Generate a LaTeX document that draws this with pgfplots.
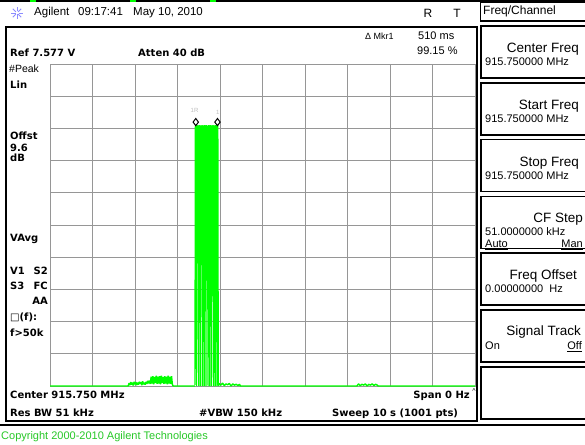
\documentclass[border=0pt]{standalone}
\usepackage{pgfplots}
\pgfplotsset{compat=1.18}
\usepackage{fontspec}
\setmainfont{Liberation Sans}
\newfontfamily\dvs{DejaVu Sans}
\newcommand\fs[1]{\fontsize{#1}{#1}\selectfont}
\newcommand\bt{\dvs\bfseries\fs{10}}
\definecolor{tg}{RGB}{0,255,0}
\definecolor{cg}{RGB}{40,200,40}
\definecolor{gridc}{RGB}{150,150,150}
\begin{document}
\begin{tikzpicture}
\useasboundingbox (0pt,0pt) rectangle (585pt,444pt);
\fill[white] (0pt,0pt) rectangle (585pt,444pt);
\begin{axis}[at={(50pt,58pt)}, anchor=south west, scale only axis,
  width=425pt, height=322pt,
  xmin=0, xmax=10, ymin=0, ymax=7.577,
  xtick={0,1,2,3,4,5,6,7,8,9,10},
  ytick={0,0.7577,1.5154,2.2731,3.0308,3.7885,4.5462,5.3039,6.0616,6.8193,7.577},
  xticklabels={}, yticklabels={}, major tick length=0pt,
  grid=major, grid style={draw=gridc, line width=0.7pt},
  axis line style={draw=gridc, line width=0.8pt},
  clip=false]
% baseline before the burst, with low-level noise
\addplot[tg, line width=1.4pt, line join=bevel] coordinates {
(0,0) (1.00,0) (1.84,0)
(1.86,0.07) (1.88,0.02) (1.90,0.09) (1.92,0.03) (1.94,0.08) (1.96,0.01) (1.98,0.10)
(2.00,0.04) (2.02,0.09) (2.04,0.02) (2.06,0.08) (2.08,0.03) (2.10,0.10) (2.12,0.05)
(2.14,0.09) (2.16,0.02) (2.18,0.11) (2.20,0.04) (2.22,0.08) (2.24,0.03) (2.26,0.10)
(2.28,0.05) (2.30,0.12) (2.32,0.06) (2.34,0.13)
(2.36,0.05) (2.38,0.22) (2.40,0.06) (2.42,0.23) (2.44,0.04) (2.46,0.21) (2.48,0.07)
(2.50,0.24) (2.52,0.05) (2.54,0.22) (2.56,0.06) (2.58,0.23) (2.60,0.04) (2.62,0.24)
(2.64,0.07) (2.66,0.21) (2.68,0.05) (2.70,0.23) (2.72,0.06) (2.74,0.22) (2.76,0.04)
(2.78,0.24) (2.80,0.06) (2.82,0.22) (2.84,0.05) (2.86,0.23) (2.88,0.03) (2.90,0)
(3.41,0)};
% the burst
\addplot[tg, line width=1.2pt, line join=bevel] coordinates {
(3.41,0.02) (3.42,6.14) (3.43,3.05) (3.44,6.12) (3.45,0.00) (3.46,6.14) (3.47,3.02)
(3.48,6.13) (3.49,3.04) (3.50,0.00) (3.51,6.14) (3.52,3.03) (3.53,6.12) (3.54,0.00)
(3.55,6.14) (3.56,3.05) (3.57,6.13) (3.58,3.02) (3.59,0.00) (3.60,6.14) (3.61,3.04)
(3.62,6.12) (3.63,0.00) (3.64,6.14) (3.65,3.03) (3.66,6.13) (3.67,0.00) (3.68,6.14)
(3.69,3.05) (3.70,6.12) (3.71,3.02) (3.72,0.00) (3.73,6.14) (3.74,3.04) (3.75,6.13)
(3.76,0.00) (3.77,6.14) (3.78,3.03) (3.79,6.12) (3.80,0.00) (3.81,6.14) (3.82,3.05)
(3.83,6.13) (3.84,3.02) (3.85,0.00) (3.86,6.14) (3.87,3.04) (3.88,6.12) (3.89,0.00)
(3.90,6.14) (3.91,3.03) (3.92,6.13) (3.93,0.00) (3.94,6.14) (3.95,6.12) (3.96,0.02)};
% baseline after the burst
\addplot[tg, line width=1.4pt, line join=bevel] coordinates {
(3.96,0) (3.98,0.06) (4.02,0.02) (4.06,0.07) (4.10,0.01) (4.14,0.05) (4.18,0.03)
(4.22,0.06) (4.26,0.00) (4.30,0.05) (4.34,0.02) (4.38,0.04) (4.42,0.01) (4.46,0.04)
(4.48,0) (7.22,0) (7.26,0.05) (7.30,0.01) (7.34,0.04) (7.38,0.02) (7.42,0.05)
(7.46,0.00) (7.50,0.04) (7.54,0.02) (7.58,0.05) (7.62,0.01) (7.66,0.04) (7.70,0.02)
(7.72,0) (10,0)};
% markers
\addplot[only marks, mark=diamond*, mark size=3.6pt,
  mark options={fill=white, draw=black, line width=1pt}] coordinates {(3.43,6.21) (3.94,6.21)};
\node[font=\fs{6}, text=gray!50, inner sep=0] at (axis cs:3.40,6.48) {1R};
\node[font=\fs{6}, text=gray!50, inner sep=0] at (axis cs:3.95,6.43) {1};
\end{axis}
\begin{scope}[x=1pt, y=-1pt, shift={(0pt,444pt)}]
% top strip
\draw[line width=1.5pt] (0,1) -- (585,1);
\foreach \x in {33,133,213} \draw[tg, line width=1.5pt] (\x-3,1) -- (\x+3,1);
% star icon
\foreach \a in {0,45,...,315} \draw[blue!45, line width=0.8pt] (17,13) ++(\a:1.5) -- ++(\a:4.5);
% header
\node[anchor=mid west, inner sep=0, font=\fs{11.5}] at (34,13) {Agilent};
\node[anchor=mid west, inner sep=0, font=\fs{11.5}] at (78,13) {09:17:41};
\node[anchor=mid west, inner sep=0, font=\fs{11.5}] at (133,13) {May 10, 2010};
\node[inner sep=0, font=\fs{12}] at (428,13) {R};
\node[inner sep=0, font=\fs{12}] at (457,13) {T};
\draw[line width=1.2pt] (480.5,2) rectangle (590,21);
\node[anchor=mid west, inner sep=0, font=\fs{12}] at (483,12) {Freq/Channel};
% main frame
\draw[line width=1.5pt] (6,27) rectangle (477,421);
\draw[line width=1.2pt] (0,425) -- (585,425);
% softkeys
\foreach \k in {0,...,6} \draw[line width=1.5pt] (481,26+\k*56.8) rectangle (590,26+\k*56.8+52);
\node[anchor=mid east, inner sep=0, font=\fs{13.5}] at (579,50) {Center Freq};
\node[anchor=mid west, inner sep=0, font=\fs{11}] at (485,63) {915.750000 MHz};
\node[anchor=mid east, inner sep=0, font=\fs{13.5}] at (579,107) {Start Freq};
\node[anchor=mid west, inner sep=0, font=\fs{11}] at (485,120) {915.750000 MHz};
\node[anchor=mid east, inner sep=0, font=\fs{13.5}] at (579,164) {Stop Freq};
\node[anchor=mid west, inner sep=0, font=\fs{11}] at (485,177) {915.750000 MHz};
\node[anchor=mid east, inner sep=0, font=\fs{13.5}] at (583,220) {CF Step};
\node[anchor=mid west, inner sep=0, font=\fs{11}] at (485,233) {51.0000000 kHz};
\node[anchor=mid west, inner sep=0, font=\fs{11}] at (485,245) {\underline{Auto}};
\node[anchor=mid east, inner sep=0, font=\fs{11}] at (583,245) {\underline{Man}};
\node[anchor=mid east, inner sep=0, font=\fs{13.5}] at (577,277) {Freq Offset};
\node[anchor=mid west, inner sep=0, font=\fs{11}] at (485,290) {0.00000000\ \ Hz};
\node[anchor=mid east, inner sep=0, font=\fs{13.5}] at (581,333) {Signal Track};
\node[anchor=mid west, inner sep=0, font=\fs{11}] at (485,347) {On};
\node[anchor=mid east, inner sep=0, font=\fs{11}] at (582,347) {\underline{Off}};
% top annotations
\node[anchor=mid west, inner sep=0, font=\bt] at (10,54) {Ref 7.577 V};
\node[anchor=mid west, inner sep=0, font=\bt] at (138,54) {Atten 40 dB};
\node[anchor=mid west, inner sep=0, font=\fs{9}] at (365,37) {Δ Mkr1};
\node[anchor=mid west, inner sep=0, font=\fs{11}] at (418,37) {510 ms};
\node[anchor=mid west, inner sep=0, font=\fs{11}] at (417,52) {99.15 \%};
% left annotations
\node[anchor=mid west, inner sep=0, font=\fs{10.5}] at (9,70) {\#Peak};
\node[anchor=mid west, inner sep=0, font=\bt] at (10,86) {Lin};
\node[anchor=mid west, inner sep=0, font=\bt] at (10,137) {Offst};
\node[anchor=mid west, inner sep=0, font=\bt] at (10,149) {9.6};
\node[anchor=mid west, inner sep=0, font=\bt] at (10,159) {dB};
\node[anchor=mid west, inner sep=0, font=\bt] at (10,239) {VAvg};
\node[anchor=mid west, inner sep=0, font=\bt] at (10,272) {V1};
\node[anchor=mid east, inner sep=0, font=\bt] at (48,272) {S2};
\node[anchor=mid west, inner sep=0, font=\bt] at (10,287) {S3};
\node[anchor=mid east, inner sep=0, font=\bt] at (48,287) {FC};
\node[anchor=mid east, inner sep=0, font=\bt] at (48,302) {AA};
\node[anchor=mid west, inner sep=0, font=\bt] at (10,318) {{\mdseries □}(f):};
\node[anchor=mid west, inner sep=0, font=\bt] at (10,334) {f>50k};
% bottom annotations
\node[anchor=mid west, inner sep=0, font=\bt] at (10,396) {Center 915.750 MHz};
\node[anchor=mid east, inner sep=0, font=\bt] at (470,396) {Span 0 Hz};
\node[inner sep=0, font=\fs{7}] at (474,391) {\^{}};
\node[anchor=mid west, inner sep=0, font=\bt] at (10,414) {Res BW 51 kHz};
\node[anchor=mid west, inner sep=0, font=\bt] at (199,414) {\#VBW 150 kHz};
\node[anchor=mid west, inner sep=0, font=\bt] at (332,414) {Sweep 10 s (1001 pts)};
\node[anchor=mid west, inner sep=0, font=\fs{11}, text=cg] at (1,437) {Copyright 2000-2010 Agilent Technologies};
\end{scope}
\end{tikzpicture}
\end{document}
